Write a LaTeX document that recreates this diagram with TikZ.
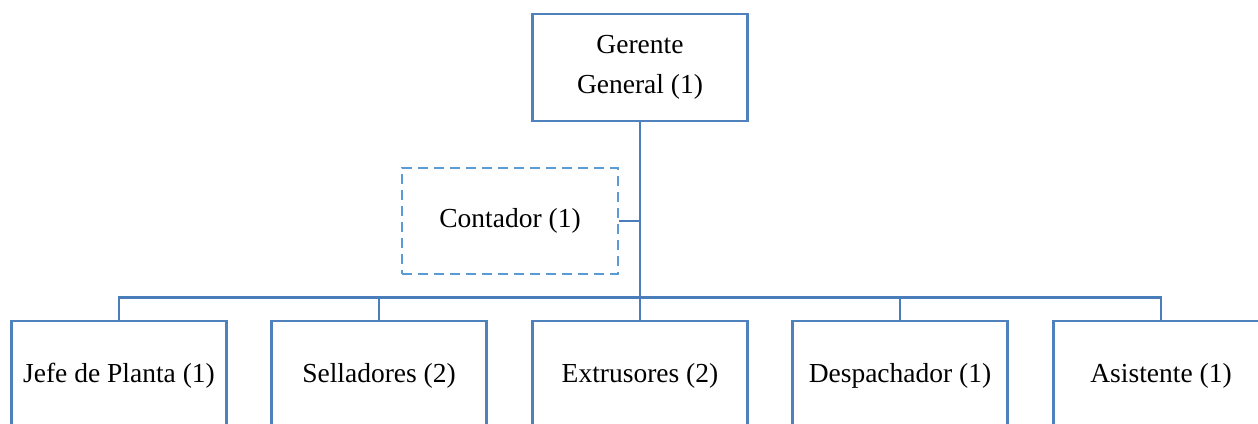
\documentclass[tikz,border=0pt]{standalone}
\usepackage{fontspec}
\setmainfont{Liberation Serif}
\definecolor{boxblue}{HTML}{4F81BD}
\definecolor{linkblue}{HTML}{4A7EBB}
\definecolor{dashblue}{HTML}{5B9BD5}
\begin{document}
\begin{tikzpicture}[x=1pt,y=-1pt,
  every node/.style={font=\fontsize{27.5}{40}\selectfont, align=center, inner sep=0pt},
  orgbox/.style={draw=boxblue, line width=2.2pt, minimum width=215pt},
  dashbox/.style={draw=dashblue, line width=2.2pt, dash pattern=on 10pt off 6pt, minimum width=216pt, minimum height=106pt},
  link/.style={draw=linkblue, line width=2.8pt}]
\clip (0,0) rectangle (1258,423);
\fill[white] (0,0) rectangle (1258,423);
\node[orgbox, minimum height=107pt] (ger) at (640,67.5) {Gerente\\General (1)};
\node[dashbox] (cont) at (510,221) {Contador (1)};
\node[orgbox, minimum height=110pt] (jefe) at (119,376) {Jefe de Planta (1)};
\node[orgbox, minimum height=110pt] (sell) at (379,376) {Selladores (2)};
\node[orgbox, minimum height=110pt] (extr) at (640,376) {Extrusores (2)};
\node[orgbox, minimum height=110pt] (desp) at (900,376) {Despachador (1)};
\node[orgbox, minimum height=110pt] (asis) at (1161,376) {Asistente (1)};
\coordinate (bus) at (ger.south |- 0,297.5);
\draw[link] (ger.south) -- (bus);
\draw[link] (cont.east) -- (cont.east -| ger.south);
\draw[link] (jefe.north) |- (bus) -| (asis.north);
\draw[link] (sell.north) -- (sell.north |- bus);
\draw[link] (extr.north) -- (extr.north |- bus);
\draw[link] (desp.north) -- (desp.north |- bus);
\end{tikzpicture}
\end{document}
